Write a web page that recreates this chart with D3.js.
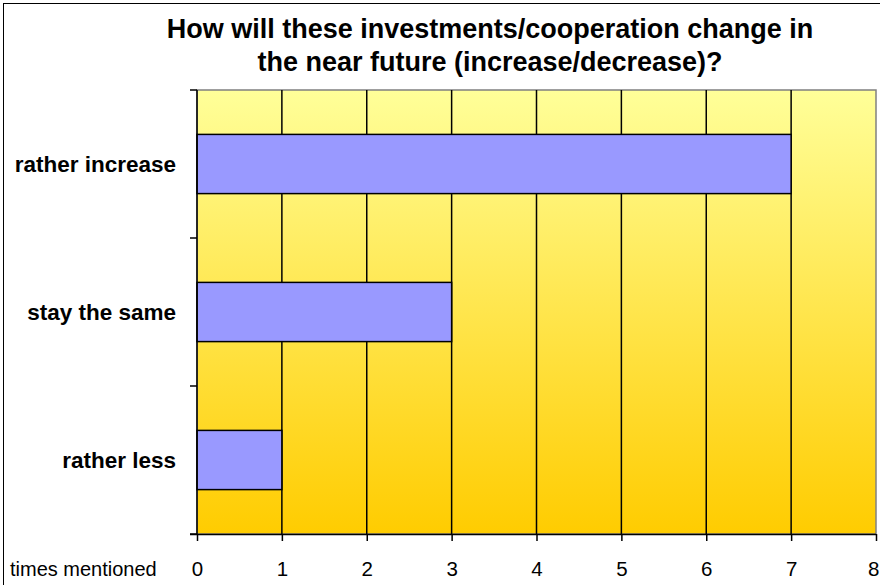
<!DOCTYPE html>
<html><head><meta charset="utf-8">
<script src="https://cdn.jsdelivr.net/npm/d3@7"></script>
<style>body{margin:0;background:#fff}svg{display:block;font-family:"Liberation Sans",Arial,sans-serif}</style>
</head><body>
<svg id="c" width="880" height="585"></svg>
<script>
const categories = ["rather increase", "stay the same", "rather less"];
const values = [7, 3, 1];
const xTicks = [0,1,2,3,4,5,6,7,8];
const titleLines = ["How will these investments/cooperation change in", "the near future (increase/decrease)?"];
const xAxisLabel = "times mentioned";

const svg = d3.select("#c");
const m = {left:197, top:90, right:876, bottom:534};
const x = d3.scaleLinear().domain([0,8]).range([m.left, m.right]);
const y = d3.scaleBand().domain(categories).range([m.top, m.bottom]).paddingInner(0.6).paddingOuter(0.3);
const yb = d3.scaleBand().domain(categories).range([m.top, m.bottom]);

// outer frame
svg.append("rect").attr("x",3.5).attr("y",3.5).attr("width",900).attr("height",600)
  .attr("fill","#fff").attr("stroke","#000").attr("stroke-width",1);

const defs = svg.append("defs");
const g = defs.append("linearGradient").attr("id","bg").attr("x1",0).attr("y1",0).attr("x2",0).attr("y2",1);
g.append("stop").attr("offset","0%").attr("stop-color","#FFFF99");
g.append("stop").attr("offset","100%").attr("stop-color","#FFCC00");

svg.append("rect").attr("x",m.left).attr("y",m.top).attr("width",m.right-m.left).attr("height",m.bottom-m.top)
  .attr("fill","url(#bg)").attr("stroke","#808080").attr("stroke-width",1.5);

// gridlines
svg.append("g").selectAll("line").data(xTicks.filter(d=>d>0 && d<8)).join("line")
  .attr("x1",d=>x(d)).attr("x2",d=>x(d)).attr("y1",m.top).attr("y2",m.bottom)
  .attr("stroke","#000").attr("stroke-width",1.5);

// bars
svg.append("g").selectAll("rect").data(values).join("rect")
  .attr("x",x(0)).attr("y",(d,i)=>y(categories[i]))
  .attr("width",d=>x(d)-x(0)).attr("height",y.bandwidth())
  .attr("fill","#9999FF").attr("stroke","#000").attr("stroke-width",1.5);

// x axis
const xa = svg.append("g").attr("transform",`translate(0,${m.bottom})`)
  .call(d3.axisBottom(x).tickValues(xTicks).tickSize(7).tickPadding(0).tickSizeOuter(0));
xa.select(".domain").attr("d",`M${m.left-7},0.5H${m.right}`).attr("stroke","#000").attr("stroke-width",1.5);
xa.selectAll(".tick line").attr("stroke","#000").attr("stroke-width",1.5);
xa.selectAll(".tick text").attr("font-size",20.5).attr("fill","#000").attr("dy",null)
  .attr("y",42).attr("font-family","Liberation Sans, Arial, sans-serif");
// keep the last label inside the page edge
xa.selectAll(".tick text").filter(d=>d===8).attr("text-anchor","end").attr("x",879-x(8));

// y axis ticks at band boundaries
const yBounds = categories.map(c=>yb(c)).concat([m.bottom]);
svg.append("g").selectAll("line").data(yBounds).join("line")
  .attr("x1",m.left-7).attr("x2",m.left).attr("y1",d=>d).attr("y2",d=>d)
  .attr("stroke","#000").attr("stroke-width",1.5);
svg.append("line").attr("x1",m.left).attr("x2",m.left).attr("y1",m.top).attr("y2",m.bottom)
  .attr("stroke","#000").attr("stroke-width",1.5);

// category labels
svg.append("g").selectAll("text").data(categories).join("text")
  .attr("x",176).attr("y",c=>yb(c)+yb.bandwidth()/2).attr("dy","0.35em")
  .attr("text-anchor","end").attr("font-weight","bold").attr("font-size",22.5).text(d=>d);

svg.append("text").attr("x",10).attr("y",576).attr("font-size",20).text(xAxisLabel);

// title
svg.append("g").selectAll("text").data(titleLines).join("text")
  .attr("x",490).attr("y",(d,i)=>38+i*33).attr("text-anchor","middle")
  .attr("font-weight","bold").attr("font-size",27).text(d=>d);
</script>
</body></html>
